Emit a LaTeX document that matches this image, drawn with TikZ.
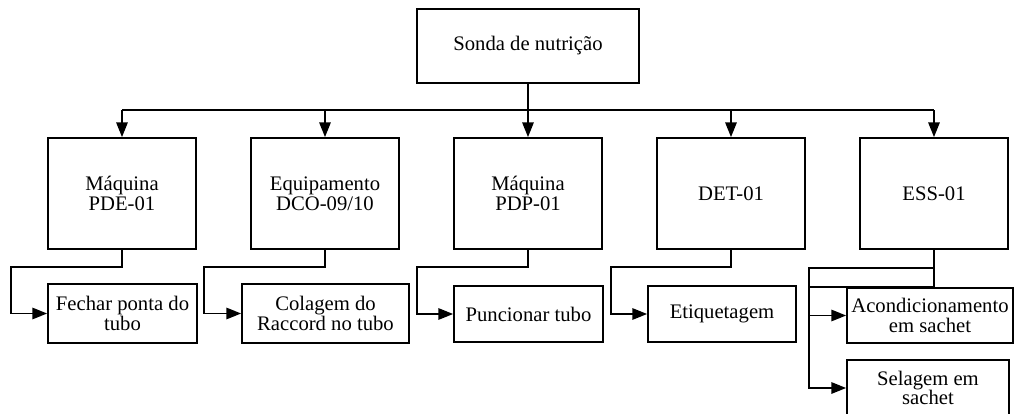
\documentclass[tikz,border=0pt]{standalone}
\usepackage{fontspec}
\setmainfont{Liberation Serif}
\usetikzlibrary{arrows.meta}
\begin{document}
\begin{tikzpicture}[x=0.75pt,y=-0.75pt,
  box/.style={draw,line width=1.3pt,rectangle,inner sep=0pt,align=center,
    font=\fontsize{15.5}{14.8}\selectfont},
  machine/.style={box,minimum width=111pt,minimum height=83.25pt},
  task/.style={box,minimum height=44.25pt},
  link/.style={line width=1.3pt},
  arr/.style={link,-{Triangle[length=11pt,width=8.5pt]}}]
\useasboundingbox (0,0) rectangle (1014,414);

% root
\node[box,minimum width=166.5pt,minimum height=55.5pt] (root) at (528,46) {Sonda de nutrição};

% equipment row
\node[machine] (m1) at (122,193.5) {Máquina\\PDE-01};
\node[machine] (m2) at (325,193.5) {Equipamento\\DCO-09/10};
\node[machine] (m3) at (528,193.5) {Máquina\\PDP-01};
\node[machine] (m4) at (731,193.5) {DET-01};
\node[machine] (m5) at (934,193.5) {ESS-01};

% operations row
\node[task,minimum width=111.75pt] (s1) at (122.5,313.5) {Fechar ponta do\\tubo};
\node[task,minimum width=125.25pt] (s2) at (325.5,313.5) {Colagem do\\Raccord no tubo};
\node[task,minimum width=111.75pt,minimum height=42pt] (s3) at (528.5,314) {Puncionar tubo};
\node[task,minimum width=111pt,minimum height=42pt] (s4) at (722,314) {Etiquetagem};
\node[task,minimum width=124.5pt,minimum height=41.25pt] (s5) at (930,315.5) {Acondicionamento\\em sachet};
\node[task,minimum width=121.5pt,minimum height=42pt] (s6) at (928,388) {Selagem em\\sachet};

% distribution bus
\coordinate (bus) at (0,110);
\draw[link] (m1.north |- bus) -- (m5.north |- bus);
\draw[arr] (root.south) -- (m3.north);
\foreach \m in {m1,m2,m4,m5}
  \draw[arr] (\m.north |- bus) -- (\m.north);

% elbow connectors
\coordinate (k1) at (11,267);
\coordinate (k2) at (204,267);
\coordinate (k3) at (417,267);
\coordinate (k4) at (611,267);
\coordinate (k5) at (809,268);
\coordinate (k6) at (809,287);
\draw[arr] (m1.south) |- (k1) |- (s1.west);
\draw[arr] (m2.south) |- (k2) |- (s2.west);
\draw[arr] (m3.south) |- (k3) |- (s3.west);
\draw[arr] (m4.south) |- (k4) |- (s4.west);
\draw[arr] (m5.south) |- (k5) |- (s5.west);
\draw[arr] (m5.south) |- (k6) |- (s6.west);
\end{tikzpicture}
\end{document}
